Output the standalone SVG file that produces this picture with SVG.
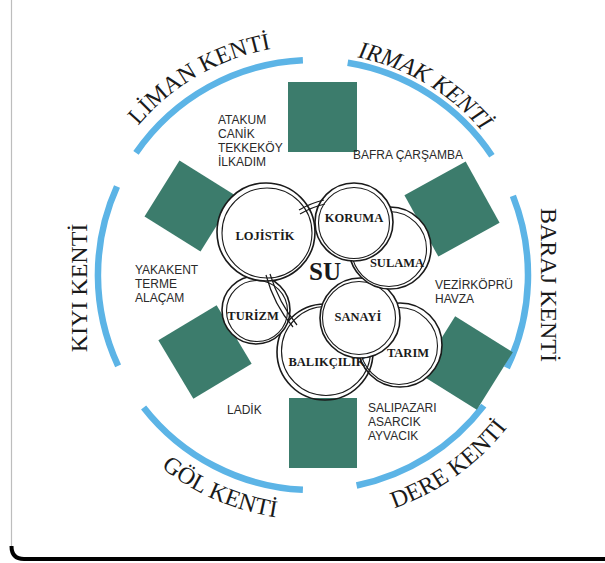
<svg xmlns="http://www.w3.org/2000/svg" width="605" height="563" viewBox="0 0 605 563">
<style>
.sq{fill:#3c7c6c}
.arc{fill:none;stroke:#5cb4e6;stroke-width:6.5}
.lbl{font-family:"Liberation Serif","Times New Roman",serif;font-size:24px;fill:#1a1a1a}
.dist{font-family:"Liberation Sans",Arial,sans-serif;font-size:12px;fill:#2a2a2a}
.nf{fill:#fff}
.r1{fill:none;stroke:#1a1a1a;stroke-width:1.6}
.r2{fill:none;stroke:#1a1a1a;stroke-width:1.1}
.nl{font-family:"Liberation Serif","Times New Roman",serif;font-weight:bold;font-size:12.5px;fill:#1a1a1a;text-anchor:middle}
</style>
<defs>
<path id="p-liman" d="M124.6,143.1 A230,230 0 0 1 293,45.9"/>
<path id="p-irmak" d="M332.4,53.8 A222,222 0 0 1 497,150.9"/>
<path id="p-gol" d="M125.3,432.5 A245,245 0 0 0 325.8,519.7"/>
<path id="p-dere" d="M347.4,519.6 A247,247 0 0 0 533.1,387.1"/>
</defs>
<rect width="605" height="563" fill="#fff"/>
<g id="frame" fill="none">
<path d="M11.5,0 V547" stroke="#bdbdbd" stroke-width="1.2"/>
<path d="M11.5,546 Q11.5,559 24,559 H605" stroke="#000" stroke-width="4"/>
</g>
<g id="ring-arcs">
<path class="arc" d="M136,152.9 A215,215 0 0 1 302.9,60.2"/>
<path class="arc" d="M347.7,62.8 A215,215 0 0 1 491.9,155.7"/>
<path class="arc" d="M512.9,195.9 A215,215 0 0 1 506.9,367.9"/>
<path class="arc" d="M483.8,405.6 A215,215 0 0 1 356.6,485.5"/>
<path class="arc" d="M302.9,489.8 A215,215 0 0 1 143.6,407.4"/>
<path class="arc" d="M118.1,365.9 A215,215 0 0 1 117,186.5"/>
</g>
<g id="city-labels">
<text class="lbl"><textPath href="#p-liman" startOffset="22">LİMAN</textPath></text>
<text class="lbl"><textPath href="#p-liman" startOffset="106.6">KENTİ</textPath></text>
<text class="lbl" font-style="italic"><textPath href="#p-irmak" startOffset="50%" text-anchor="middle">IRMAK KENTİ</textPath></text>
<text class="lbl" text-anchor="middle" transform="translate(87,288) rotate(-90)">KIYI KENTİ</text>
<text class="lbl" text-anchor="middle" transform="translate(541,285) rotate(90)">BARAJ KENTİ</text>
<text class="lbl"><textPath href="#p-gol" startOffset="50%" text-anchor="middle">GÖL KENTİ</textPath></text>
<text class="lbl"><textPath href="#p-dere" startOffset="48.2">DERE</textPath></text>
<text class="lbl"><textPath href="#p-dere" startOffset="116.9">KENTİ</textPath></text>
</g>
<g id="squares">
<rect class="sq" x="288" y="82" width="69" height="70"/>
<rect class="sq" x="289" y="398" width="68" height="70"/>
<rect class="sq" x="-33" y="-33" width="66" height="66" transform="translate(190,206) rotate(32)"/>
<rect class="sq" x="-35" y="-35" width="70" height="70" transform="translate(452,209) rotate(-29)"/>
<rect class="sq" x="-34" y="-34" width="68" height="68" transform="translate(205,352) rotate(-31)"/>
<rect class="sq" x="-34" y="-34" width="68" height="68" transform="translate(466,363) rotate(32)"/>
</g>
<g id="districts" class="dist">
<text x="218" y="124">ATAKUM</text>
<text x="218" y="138">CANİK</text>
<text x="218" y="152">TEKKEKÖY</text>
<text x="218" y="166">İLKADIM</text>
<text x="353" y="159">BAFRA ÇARŞAMBA</text>
<text x="135" y="274">YAKAKENT</text>
<text x="135" y="288">TERME</text>
<text x="135" y="302">ALAÇAM</text>
<text x="435" y="289">VEZİRKÖPRÜ</text>
<text x="435" y="303">HAVZA</text>
<text x="227" y="414">LADİK</text>
<text x="368" y="412">SALIPAZARI</text>
<text x="368" y="426">ASARCIK</text>
<text x="368" y="440">AYVACIK</text>
</g>
<g id="tarim">
<circle class="nf" cx="400" cy="345" r="42"/>
<circle class="r1" cx="400" cy="345" r="42"/>
<circle class="r2" cx="399" cy="346" r="38.5"/>
<text class="nl" x="408" y="357">TARIM</text>
</g>
<g id="balikcilik">
<circle class="r1" cx="325" cy="352" r="48"/>
<circle class="r2" cx="326" cy="351" r="44.5"/>
<text class="nl" x="327" y="366">BALIKÇILIK</text>
</g>
<g id="sanayi">
<circle class="nf" cx="360" cy="318" r="40"/>
<circle class="r1" cx="360" cy="318" r="40"/>
<circle class="r2" cx="359" cy="318" r="36.5"/>
<text class="nl" x="358" y="321">SANAYİ</text>
</g>
<g id="turizm">
<circle class="nf" cx="256" cy="310" r="34"/>
<circle class="r1" cx="256" cy="310" r="34"/>
<circle class="r2" cx="257" cy="311" r="30.5"/>
<text class="nl" x="253" y="320">TURİZM</text>
</g>
<g id="lojistik">
<circle class="nf" cx="266" cy="232" r="49"/>
<circle class="r1" cx="266" cy="232" r="49" stroke-width="2.2"/>
<circle class="r2" cx="267" cy="233" r="45" stroke-width="1.4"/>
<text class="nl" x="265" y="240">LOJİSTİK</text>
</g>
<g id="sulama">
<circle class="nf" cx="390" cy="248" r="41"/>
<circle class="r1" cx="390" cy="248" r="41"/>
<circle class="r2" cx="389" cy="249" r="37.5"/>
<text class="nl" x="397" y="267">SULAMA</text>
</g>
<g id="koruma">
<circle class="nf" cx="354" cy="222" r="39"/>
<circle class="r1" cx="354" cy="222" r="39" stroke-width="2"/>
<circle class="r2" cx="354" cy="223" r="35.5"/>
<text class="nl" x="354" y="222">KORUMA</text>
</g>
<g id="connectors" fill="none" stroke="#1a1a1a" stroke-width="1.2">
<path d="M299,210 Q311,203 324,200"/>
<path d="M300,214 Q312,207 325,204"/>
<path d="M266,275 Q274,305 293,327"/>
<path d="M270,274 Q279,303 297,325"/>
</g>
<g id="su">
<text x="325" y="280" text-anchor="middle" font-family="Liberation Serif, Times New Roman, serif" font-weight="bold" font-size="25" fill="#1a1a1a">SU</text>
</g>
</svg>
